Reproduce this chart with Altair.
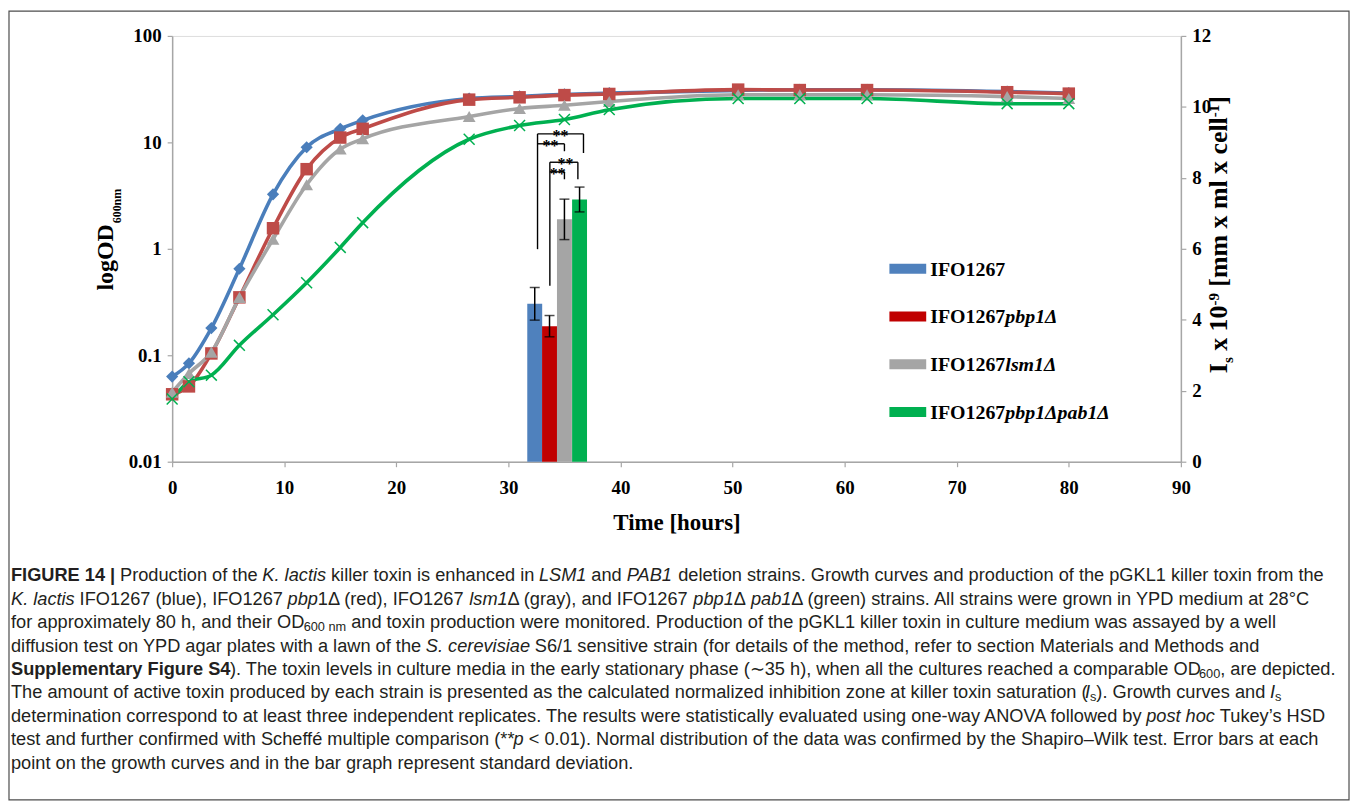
import altair as alt
import pandas as pd

# ---------------- data ----------------
strains = ["IFO1267", "IFO1267pbp1Δ", "IFO1267lsm1Δ", "IFO1267pbp1Δpab1Δ"]
legend_main = ["IFO1267", "IFO1267", "IFO1267", "IFO1267"]
legend_suffix = ["", "pbp1Δ", "lsm1Δ", "pbp1Δpab1Δ"]

times = [0, 1.5, 3.5, 6, 9, 12, 15, 17, 26.5, 31, 35, 39, 50.5, 56, 62, 74.5, 80]
od_ifo1267 = [0.063, 0.084, 0.18, 0.65, 3.25, 9.0, 13.4, 16.1, 25.8, 27.0, 28.3, 29.0, 30.8, 31.2, 31.2, 30.0, 29.0]
od_pbp1 = [0.043, 0.051, 0.104, 0.35, 1.56, 5.6, 11.1, 13.4, 25.2, 26.5, 27.8, 28.5, 31.3, 31.0, 31.0, 29.6, 28.7]
od_lsm1 = [0.045, 0.0675, 0.107, 0.35, 1.23, 4.0, 8.65, 10.8, 17.5, 20.8, 22.3, 24.2, 28.0, 28.0, 28.0, 26.9, 25.8]
od_pbp1_pab1 = [0.0388, 0.0564, 0.065, 0.124, 0.24, 0.48, 1.03, 1.76, 10.7, 14.4, 16.4, 20.3, 25.8, 25.8, 25.8, 23.1, 23.1]

toxin_is = [4.45, 3.82, 6.83, 7.39]
toxin_sd = [0.46, 0.30, 0.57, 0.35]
bar_time = [32.35, 33.67, 35.0, 36.35]

# significance brackets (segments in hours / Is units)
brk_x = [32.6, 32.6, 36.7, 32.6, 35.0, 33.7, 33.7, 36.2, 33.7, 35.0]
brk_x2 = [32.6, 36.7, 36.7, 35.0, 35.0, 33.7, 36.2, 36.2, 35.0, 35.0]
brk_y = [5.99, 9.24, 9.24, 8.96, 8.96, 4.96, 8.44, 8.44, 8.17, 8.17]
brk_y2 = [9.24, 9.24, 8.70, 8.96, 8.75, 8.44, 8.44, 7.96, 8.17, 7.96]
star_time = [34.65, 33.75, 35.1, 34.4]
star_is = [9.24, 8.96, 8.44, 8.17]

x_ticks = [0, 10, 20, 30, 40, 50, 60, 70, 80, 90]
od_ticks = [0.01, 0.1, 1, 10, 100]
is_ticks = [0, 2, 4, 6, 8, 10, 12]

line_colors = ["#4A7EBB", "#BE4B48", "#A5A5A5", "#00B050"]
bar_colors = ["#4F81BD", "#C00000", "#A5A5A5", "#00B050"]

caption_lines = [
    [("FIGURE 14 |", "b"), (" Production of the ", "r"), ("K. lactis", "i"),
     (" killer toxin is enhanced in ", "r"), ("LSM1", "i"), (" and ", "r"), ("PAB1", "i"),
     (" deletion strains. Growth curves and production of the pGKL1 killer toxin from the", "r")],
    [("K. lactis", "i"), (" IFO1267 (blue), IFO1267 ", "r"), ("pbp", "i"), ("1Δ (red), IFO1267 ", "r"),
     ("lsm1", "i"), ("Δ (gray), and IFO1267 ", "r"), ("pbp1", "i"), ("Δ ", "r"), ("pab1", "i"),
     ("Δ (green) strains. All strains were grown in YPD medium at 28°C", "r")],
    [("for approximately 80 h, and their OD", "r"), ("600 nm", "s"),
     (" and toxin production were monitored. Production of the pGKL1 killer toxin in culture medium was assayed by a well", "r")],
    [("diffusion test on YPD agar plates with a lawn of the ", "r"), ("S. cerevisiae", "i"),
     (" S6/1 sensitive strain (for details of the method, refer to section Materials and Methods and", "r")],
    [("Supplementary Figure S4", "b"),
     ("). The toxin levels in culture media in the early stationary phase (∼35 h), when all the cultures reached a comparable OD", "r"),
     ("600", "s"), (", are depicted.", "r")],
    [("The amount of active toxin produced by each strain is presented as the calculated normalized inhibition zone at killer toxin saturation (", "r"),
     ("I", "i"), ("s", "s"), ("). Growth curves and ", "r"), ("I", "i"), ("s", "s")],
    [("determination correspond to at least three independent replicates. The results were statistically evaluated using one-way ANOVA followed by ", "r"),
     ("post hoc", "i"), (" Tukey’s HSD", "r")],
    [("test and further confirmed with Scheffé multiple comparison (**", "r"), ("p", "i"),
     (" < 0.01). Normal distribution of the data was confirmed by the Shapiro–Wilk test. Error bars at each", "r")],
    [("point on the growth curves and in the bar graph represent standard deviation.", "r")],
]

# ---------------- layout helpers (font metrics) ----------------
def _table(groups):
    d = {}
    for chars, v in groups:
        for c in chars:
            d[c] = v
    return d

SANS_R = _table([(" .,:;/![]ftI", 278), ("ijl’", 222), ("()-r", 333), ("cksvxyzJ", 500),
                 ("abdeghnopqu0123456789é–_?L", 556), ("mM", 833), ("wCDHNRU", 722),
                 ("ABEKPSVXY&", 667), ("FTZ", 611), ("GOQ", 778), ("W", 944), ("<>=+~", 584),
                 ("∼", 838), ("*", 389), ("|", 260), ("°", 400), ("'", 191), ("Δ", 668)])
SANS_B = _table([(" .,:;/![]iIjl", 278), ("()-ft", 333), ("r", 389), ("acekvsxyJ0123456789", 556),
                 ("z", 500), ("bdghnopquFLTZ", 611), ("ABCDHKNRU", 722), ("EPSVXY", 667),
                 ("GOQw", 778), ("m", 889), ("M", 833), ("W", 944), ("|", 280)])
SERIF_B = _table([(" ", 250), ("xg0123456789o", 500), ("-[]", 333), ("m", 833), ("l", 278),
                  ("ce", 444), ("sI", 389), ("O", 778), ("D", 722), ("n", 556), ("F", 611)])
KERN = {"AV": -74, "VA": -74, "Ty": -18, "Te": -74, "Yo": -74}
RENDER_K = 0.997   # measured rendering / table width


def tw(s, table, fs):
    u = sum(table.get(c, 556) for c in s)
    u += sum(KERN.get(s[i:i + 2], 0) for i in range(len(s) - 1)) if table is SANS_R else 0
    return u * fs / 1000.0


W, H = 1014, 428          # plot area
OX, OY = 172, 34          # page position of the plot origin
SERIF = "Liberation Serif"
SANS = "Liberation Sans"

# caption layout
SUB = 0.7
def seg_width(text, style, fs):
    if style == "b":
        w = tw(text, SANS_B, fs)
    elif style == "s":
        w = tw(text, SANS_R, fs * SUB)
    else:
        w = tw(text, SANS_R, fs)
    return w * RENDER_K

units_l1 = sum(seg_width(t, s, 1000) for t, s in caption_lines[0]) / 1000.0
cap_fs = 1318.0 / units_l1
cap_rows = []
for i, line in enumerate(caption_lines):
    cur = 10.0
    yy = 577 + 23.6 * i
    for text, style in line:
        lead = len(text) - len(text.lstrip(" "))
        x0 = cur + seg_width(" " * lead, style, cap_fs)
        cur += seg_width(text, style, cap_fs)
        if text.strip():
            cap_rows.append({"px": x0 - OX, "py": yy - OY + (4 if style == "s" else 0),
                             "txt": text.strip(), "style": style})
cap = pd.DataFrame(cap_rows)

# ---------------- tables ----------------
rows = []
for s, vals in zip(strains, [od_ifo1267, od_pbp1, od_lsm1, od_pbp1_pab1]):
    for t, v in zip(times, vals):
        rows.append({"strain": s, "time": t, "od": v})
growth = pd.DataFrame(rows)

bars = pd.DataFrame({"strain": strains, "time": bar_time, "val": toxin_is,
                     "lo": [v - e for v, e in zip(toxin_is, toxin_sd)],
                     "hi": [v + e for v, e in zip(toxin_is, toxin_sd)]})
brk = pd.DataFrame({"time": brk_x, "time2": brk_x2, "val": brk_y, "val2": brk_y2})
stars = pd.DataFrame({"time": star_time, "val": star_is, "txt": ["**"] * 4})

axis_common = dict(domainColor="#A6A6A6", domainWidth=1.5, tickColor="#A6A6A6", tickSize=5,
                   tickWidth=1.2, labelFont=SERIF, labelFontWeight="bold", labelFontSize=19,
                   labelColor="black", grid=False)

x_axis = alt.Axis(values=x_ticks, title="Time [hours]", labelPadding=12, titleFont=SERIF,
                  titleFontSize=23, titleFontWeight="bold", titleColor="black", titlePadding=14,
                  labelFlush=False, **axis_common)
x_scale = alt.Scale(domain=[0, 90], nice=False, zero=False, padding=0)

def X(field="time"):
    return alt.X(f"{field}:Q", scale=x_scale, axis=x_axis)

y_left = alt.Y("od:Q", scale=alt.Scale(type="log", domain=[0.01, 100], nice=False, padding=0),
               axis=alt.Axis(values=od_ticks, format="~g", title=None, orient="left",
                             labelPadding=6, labelFlush=False, **axis_common))
r_scale = alt.Scale(domain=[0, 12], nice=False, zero=True, padding=0)
r_axis = alt.Axis(values=is_ticks, title=None, orient="right", labelPadding=6, labelFlush=False,
                  **axis_common)

def YR(field="val"):
    return alt.Y(f"{field}:Q", scale=r_scale, axis=r_axis)

color_line = alt.Color("strain:N", scale=alt.Scale(domain=strains, range=line_colors), legend=None)
shape_scale = alt.Scale(domain=strains[:3], range=["diamond", "square", "triangle-up"])
size_scale = alt.Scale(domain=strains[:3], range=[150, 165, 185])

base_g = alt.Chart(growth)
lines = base_g.mark_line(interpolate="monotone", strokeWidth=3.6).encode(
    x=X(), y=y_left, color=color_line, order=alt.Order("time:Q"))
pts = base_g.transform_filter(alt.datum.strain != strains[3]).mark_point(
    filled=True, opacity=1).encode(
    x=X(), y=y_left, color=color_line,
    shape=alt.Shape("strain:N", scale=shape_scale, legend=None),
    size=alt.Size("strain:N", scale=size_scale, legend=None))
pts_x = base_g.transform_filter(alt.datum.strain == strains[3]).mark_point(
    shape="M-1,-1L1,1M-1,1L1,-1", filled=False, size=120, strokeWidth=1.5,
    color="#00B050", opacity=1).encode(x=X(), y=y_left)
left = alt.layer(lines, pts, pts_x)

b_bars = alt.Chart(bars).mark_bar(size=15).encode(
    x=X(), y=YR(),
    color=alt.Color("strain:N", scale=alt.Scale(domain=strains, range=bar_colors), legend=None))
b_err = alt.Chart(bars).mark_rule(color="black", strokeWidth=1.5).encode(
    x=X(), y=YR("lo"), y2="hi")
b_cap_lo = alt.Chart(bars).mark_tick(orient="horizontal", size=10, thickness=1.5, color="black").encode(
    x=X(), y=YR("lo"))
b_cap_hi = alt.Chart(bars).mark_tick(orient="horizontal", size=10, thickness=1.5, color="black").encode(
    x=X(), y=YR("hi"))
b_brk = alt.Chart(brk).mark_rule(color="black", strokeWidth=1.4).encode(
    x=X(), x2="time2", y=YR(), y2="val2")
b_stars = alt.Chart(stars).mark_text(font=SERIF, fontWeight="bold", fontSize=16, baseline="alphabetic",
                                     align="center", dy=7, color="black").encode(
    x=X(), y=YR(), text="txt:N")
right = alt.layer(b_bars, b_err, b_cap_lo, b_cap_hi, b_brk, b_stars)

# ---------------- legend (custom, so the gene names can be italic) ----------------
leg_y = [268, 316, 364, 412]
leg = pd.DataFrame({"strain": strains, "main": legend_main, "suffix": legend_suffix,
                    "x1": [893 - OX] * 4, "x2": [930 - OX] * 4,
                    "y1": [v - 5 - OY for v in leg_y], "y2": [v + 5 - OY for v in leg_y],
                    "ty": [v + 1 - OY for v in leg_y],
                    "tx": [934 - OX] * 4,
                    "sx": [934 - OX + tw("IFO1267", SERIF_B, 20)] * 4})
pix = lambda f: alt.X(f"{f}:Q", scale=None, axis=None)
piy = lambda f: alt.Y(f"{f}:Q", scale=None, axis=None)
leg_rect = alt.Chart(leg).mark_rect().encode(
    x=pix("x1"), x2="x2", y=piy("y1"), y2="y2",
    color=alt.Color("strain:N", scale=alt.Scale(domain=strains, range=bar_colors), legend=None))
leg_main = alt.Chart(leg).mark_text(font=SERIF, fontWeight="bold", fontSize=20, align="left",
                                    baseline="middle", color="black").encode(
    x=pix("tx"), y=piy("ty"), text="main:N")
leg_suf = alt.Chart(leg).mark_text(font=SERIF, fontWeight="bold", fontStyle="italic", fontSize=20,
                                   align="left", baseline="middle", color="black").encode(
    x=pix("sx"), y=piy("ty"), text="suffix:N")

# ---------------- axis titles with sub/superscripts ----------------
lt_fs, lt_sub = 24, 12
lt_x, lt_y = 113 - OX, 290 - OY
ltitle = pd.DataFrame({"txt": ["logOD", "600nm"],
                       "px": [lt_x, lt_x + 8],
                       "py": [lt_y, lt_y - tw("logOD", SERIF_B, lt_fs) - 1]})
rt_fs, rt_ss = 26, 15
rt_pieces = [("I", 0), ("s", 1), (" x 10", 0), ("-9", -1), (" [mm x ml x cell", 0), ("-1", -1), ("]", 0)]
rt_x, rt_y = 1232 - OX, 373 - OY
rrows = []
cur = 0.0
for t, kind in rt_pieces:
    fs = rt_fs if kind == 0 else rt_ss
    lead = len(t) - len(t.lstrip(" "))
    off = cur + tw(" " * lead, SERIF_B, fs)
    rrows.append({"txt": t.strip(), "kind": kind, "px": rt_x + (6 if kind == 1 else (-8 if kind == -1 else 0)),
                  "py": rt_y - off})
    cur += tw(t, SERIF_B, fs)
rtitle = pd.DataFrame(rrows)

def rot_text(df, fs):
    return alt.Chart(df).mark_text(font=SERIF, fontWeight="bold", fontSize=fs, angle=270,
                                   align="left", baseline="alphabetic", color="black").encode(
        x=pix("px"), y=piy("py"), text="txt:N")

lt_main = rot_text(ltitle[ltitle.txt == "logOD"], lt_fs)
lt_subm = rot_text(ltitle[ltitle.txt != "logOD"], lt_sub)
rt_main = rot_text(rtitle[rtitle.kind == 0], rt_fs)
rt_small = rot_text(rtitle[rtitle.kind != 0], rt_ss)

# ---------------- caption ----------------
def cap_layer(style, **kw):
    return alt.Chart(cap[cap["style"] == style]).mark_text(
        font=SANS, align="left", baseline="middle", color="#231F20", **kw).encode(
        x=pix("px"), y=piy("py"), text="txt:N")

cap_r = cap_layer("r", fontSize=cap_fs)
cap_i = cap_layer("i", fontSize=cap_fs, fontStyle="italic")
cap_b = cap_layer("b", fontSize=cap_fs, fontWeight="bold")
cap_s = cap_layer("s", fontSize=cap_fs * SUB)

frame = alt.Chart(pd.DataFrame({"a": [0]})).mark_rect(
    fillOpacity=0, stroke="#4D4D4D", strokeWidth=1.2).encode(
    x=alt.value(8 - OX), x2=alt.value(1355 - OX), y=alt.value(9 - OY), y2=alt.value(802 - OY))

chart = alt.layer(
    left, right, frame, leg_rect, leg_main, leg_suf, lt_main, lt_subm, rt_main, rt_small,
    cap_r, cap_i, cap_b, cap_s
).resolve_scale(y="independent", color="independent", shape="independent", size="independent").properties(
    width=W, height=H, padding=0
).configure_view(stroke=None).configure(background="white")

chart.save("out.html", embed_options={"renderer": "svg", "actions": False})
